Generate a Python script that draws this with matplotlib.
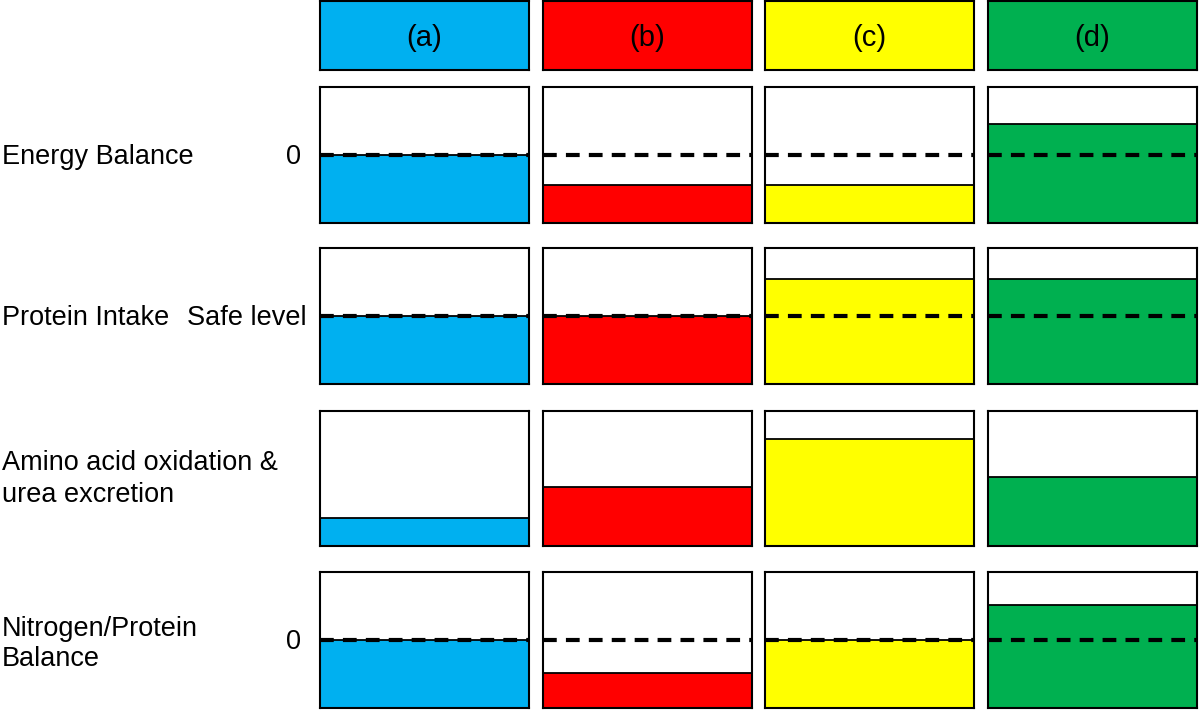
import numpy as np
import matplotlib.pyplot as plt

plt.rcParams['font.family'] = ['Liberation Sans', 'DejaVu Sans']

# ---- data ----
columns = ['(a)', '(b)', '(c)', '(d)']
col_colors = ['#00B0F0', '#FF0000', '#FFFF00', '#00B050']
row_labels = ['Energy Balance', 'Protein Intake',
              'Amino acid oxidation &\nurea excretion', 'Nitrogen/Protein\nBalance']
ref_labels = ['0', 'Safe level', None, '0']
ref_levels = [0.50, 0.50, None, 0.50]

energy_balance = [0.50, 0.28, 0.28, 0.73]
protein_intake = [0.50, 0.50, 0.77, 0.77]
aa_oxidation = [0.21, 0.44, 0.79, 0.51]
nitrogen_balance = [0.50, 0.26, 0.50, 0.76]
levels = [energy_balance, protein_intake, aa_oxidation, nitrogen_balance]

W, H = 1200, 710
fig = plt.figure(figsize=(W / 100, H / 100), dpi=100)

col_x = [320, 543, 765, 988]
col_w = 209
header_y = (1, 70)
row_y = [(87, 223), (248, 384), (411, 546), (572, 708)]
label_y = [157, 318, 479, 644]


def px_axes(x0, y0, w, h):
    return fig.add_axes([x0 / W, 1 - (y0 + h) / H, w / W, h / H])


# header boxes
for j, name in enumerate(columns):
    ax = px_axes(col_x[j], header_y[0], col_w, header_y[1] - header_y[0])
    ax.set_facecolor(col_colors[j])
    ax.set_xticks([]); ax.set_yticks([])
    for s in ax.spines.values():
        s.set_linewidth(1.5)
    ax.text(0.5, 0.47, name, ha='center', va='center', fontsize=21,
            transform=ax.transAxes)

# panels
for i in range(4):
    y0, y1 = row_y[i]
    for j in range(4):
        ax = px_axes(col_x[j], y0, col_w, y1 - y0)
        ax.set_xlim(0, 1)
        ax.set_ylim(0, 1)
        ax.bar(0.5, levels[i][j], width=1, color=col_colors[j],
               edgecolor='black', linewidth=1.3)
        if ref_levels[i] is not None:
            ax.axhline(ref_levels[i], color='black', lw=3,
                       ls=(0, (3.3, 2.2)), zorder=5)
        ax.set_xticks([]); ax.set_yticks([])
        for s in ax.spines.values():
            s.set_linewidth(1.5)
            s.set_zorder(6)

    # row labels
    fig.text(2 / W, 1 - label_y[i] / H, row_labels[i], ha='left',
             va='center', fontsize=19.5, linespacing=1.25)
    if ref_labels[i] is not None:
        ry = 1 - (y1 - ref_levels[i] * (y1 - y0) + 2) / H
        rx = 307 if i == 1 else 301
        fig.text(rx / W, ry, ref_labels[i], ha='right', va='center',
                 fontsize=19.5)

fig.savefig('out.png', dpi=100, facecolor='white')
